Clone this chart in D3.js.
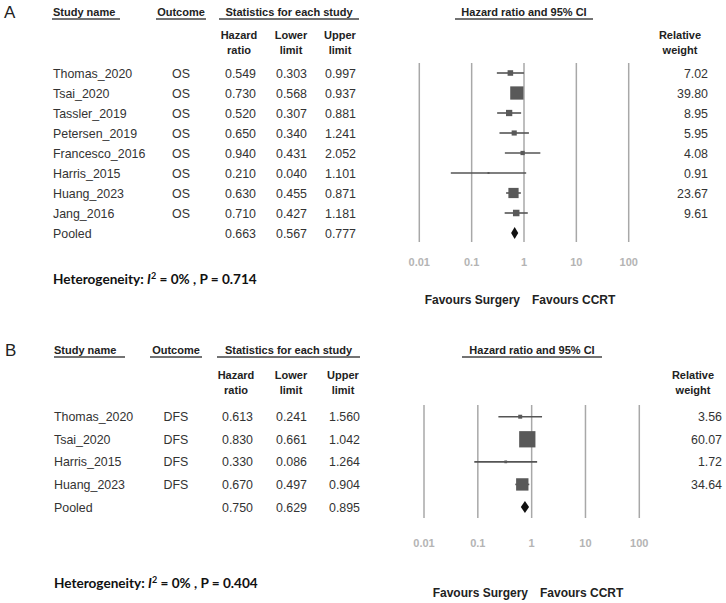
<!DOCTYPE html>
<html>
<head>
<meta charset="utf-8">
<script src="https://cdn.jsdelivr.net/npm/d3@7"></script>
<style>
  body { margin: 0; background: #fff; }
  text { font-family: "Liberation Sans", Arial, sans-serif; }
  .hdr { font-weight: bold; font-size: 11px; fill: #222; }
  .cell { font-size: 12.4px; fill: #333; }
  .tick { font-size: 11px; font-weight: bold; fill: #b4b4b4; }
  .fav { font-size: 12px; font-weight: bold; fill: #222; }
  .het { font-family: Lato, "Open Sans", sans-serif; font-size: 13.6px; font-weight: bold; fill: #111; }
</style>
</head>
<body>
<svg id="chart" width="726" height="603"></svg>
<script>
// panel A: overall survival
const studiesA = ["Thomas_2020", "Tsai_2020", "Tassler_2019", "Petersen_2019", "Francesco_2016", "Harris_2015", "Huang_2023", "Jang_2016"];
const outcomeA = "OS";
const hrA = [0.549, 0.730, 0.520, 0.650, 0.940, 0.210, 0.630, 0.710];
const lowerA = [0.303, 0.568, 0.307, 0.340, 0.431, 0.040, 0.455, 0.427];
const upperA = [0.997, 0.937, 0.881, 1.241, 2.052, 1.101, 0.871, 1.181];
const weightA = [7.02, 39.80, 8.95, 5.95, 4.08, 0.91, 23.67, 9.61];
const pooledA = [0.663, 0.567, 0.777];
const hetA = "0.714";

// panel B: disease free survival
const studiesB = ["Thomas_2020", "Tsai_2020", "Harris_2015", "Huang_2023"];
const outcomeB = "DFS";
const hrB = [0.613, 0.830, 0.330, 0.670];
const lowerB = [0.241, 0.661, 0.086, 0.497];
const upperB = [1.560, 1.042, 1.264, 0.904];
const weightB = [3.56, 60.07, 1.72, 34.64];
const pooledB = [0.750, 0.629, 0.895];
const hetB = "0.404";

const ticks = [0.01, 0.1, 1, 10, 100];
const tickLabels = ["0.01", "0.1", "1", "10", "100"];

const svg = d3.select("#chart");
const f3 = d3.format(".3f"), f2 = d3.format(".2f");

function drawPanel(p) {
    let g = svg.append("g");
    let names = p.studies.concat(["Pooled"]);
    let y = d3.scalePoint().domain(names).range([p.row0, p.row1]);
    let x = d3.scaleLog().domain([0.01, 100]).range([p.x0, p.x1]);
    let size = d3.scaleSqrt().domain([0, 100]).range([0, 21]);

    g.append("text").attr("x", p.labelX).attr("y", p.hdrY + 6)
        .style("font-size", "17px").attr("fill", "#222").text(p.label);

    // column headers with underlines
    let heads = [
        { t: "Study name", x: p.nameX, a: "start", u: p.uName },
        { t: "Outcome", x: p.outX, a: "middle", u: p.uOut },
        { t: "Statistics for each study", x: (p.uStat[0] + p.uStat[1]) / 2, a: "middle", u: p.uStat },
        { t: "Hazard ratio and 95% CI", x: (p.uCI[0] + p.uCI[1]) / 2, a: "middle", u: p.uCI }
    ];
    heads.forEach(h => {
        g.append("text").attr("class", "hdr").attr("x", h.x).attr("y", p.hdrY + 4)
            .attr("text-anchor", h.a).text(h.t);
        g.append("line").attr("x1", h.u[0]).attr("x2", h.u[1])
            .attr("y1", p.hdrY + 7).attr("y2", p.hdrY + 7)
            .attr("stroke", "#444").attr("stroke-width", 1.3);
    });
    let sub = [
        ["Hazard", "ratio", p.hrHX], ["Lower", "limit", p.loHX],
        ["Upper", "limit", p.upHX], ["Relative", "weight", p.wHX]
    ];
    sub.forEach(s => {
        g.append("text").attr("class", "hdr").attr("x", s[2]).attr("y", p.subY + 4)
            .attr("text-anchor", "middle").text(s[0]);
        g.append("text").attr("class", "hdr").attr("x", s[2]).attr("y", p.subY + p.subGap + 4)
            .attr("text-anchor", "middle").text(s[1]);
    });

    // table rows
    let rows = names.map((n, i) => {
        let pooled = i == p.studies.length;
        return {
            name: n,
            out: pooled ? "" : p.outcome,
            hr: pooled ? p.pooled[0] : p.hr[i],
            lo: pooled ? p.pooled[1] : p.lower[i],
            up: pooled ? p.pooled[2] : p.upper[i],
            w: pooled ? null : p.weight[i],
            pooled: pooled
        };
    });
    let row = g.selectAll("g.row").data(rows).enter().append("g")
        .attr("transform", d => "translate(0," + (y(d.name) + 4.5) + ")");
    row.append("text").attr("class", "cell").attr("x", p.nameX).text(d => d.name);
    row.append("text").attr("class", "cell").attr("x", p.outX).attr("text-anchor", "middle").text(d => d.out);
    row.append("text").attr("class", "cell").attr("x", p.hrX).attr("text-anchor", "end").text(d => f3(d.hr));
    row.append("text").attr("class", "cell").attr("x", p.loX).attr("text-anchor", "end").text(d => f3(d.lo));
    row.append("text").attr("class", "cell").attr("x", p.upX).attr("text-anchor", "end").text(d => f3(d.up));
    row.append("text").attr("class", "cell").attr("x", p.wX).attr("text-anchor", "end")
        .text(d => d.w == null ? "" : f2(d.w));

    // grid
    g.selectAll("line.grid").data(ticks).enter().append("line")
        .attr("x1", d => x(d)).attr("x2", d => x(d))
        .attr("y1", p.gridTop).attr("y2", p.gridBot)
        .attr("stroke", "#a8a8a8").attr("stroke-width", 1.5);
    g.selectAll("text.tick").data(ticks).enter().append("text")
        .attr("class", "tick").attr("x", d => x(d)).attr("y", p.tickY + 4)
        .attr("text-anchor", "middle").text((d, i) => tickLabels[i]);

    // CI lines and squares
    let st = rows.filter(d => !d.pooled);
    g.selectAll("line.ci").data(st).enter().append("line")
        .attr("x1", d => x(d.lo)).attr("x2", d => x(d.up))
        .attr("y1", d => y(d.name)).attr("y2", d => y(d.name))
        .attr("stroke", "#555").attr("stroke-width", 1.6);
    g.selectAll("rect.box").data(st).enter().append("rect")
        .attr("x", d => x(d.hr) - size(d.w) / 2).attr("y", d => y(d.name) - size(d.w) / 2)
        .attr("width", d => size(d.w)).attr("height", d => size(d.w))
        .attr("fill", "#595959");

    let pd = rows[rows.length - 1], py = y(pd.name);
    g.append("path")
        .attr("d", `M ${x(pd.lo)} ${py} L ${x(pd.hr)} ${py - 6} L ${x(pd.up)} ${py} L ${x(pd.hr)} ${py + 6} Z`)
        .attr("fill", "#111");

    g.append("text").attr("class", "fav").attr("x", p.favX - 6).attr("y", p.favY + 4)
        .attr("text-anchor", "end").text("Favours Surgery");
    g.append("text").attr("class", "fav").attr("x", p.favX + 6).attr("y", p.favY + 4)
        .text("Favours CCRT");

    let het = g.append("text").attr("class", "het").attr("x", p.nameX).attr("y", p.hetY + 4.5);
    het.append("tspan").text("Heterogeneity: ");
    het.append("tspan").style("font-style", "italic").text("I");
    het.append("tspan").attr("dy", -5).style("font-size", "9px").text("2");
    het.append("tspan").attr("dy", 5).text(" = 0% , P = " + p.het);
}

drawPanel({
    label: "A", studies: studiesA, outcome: outcomeA, hr: hrA, lower: lowerA, upper: upperA,
    weight: weightA, pooled: pooledA, het: hetA,
    labelX: 4, hdrY: 12, subY: 35, subGap: 15,
    nameX: 53, outX: 181, hrX: 256, loX: 307, upX: 356, wX: 708,
    hrHX: 239, loHX: 291, upHX: 340, wHX: 680,
    uName: [52, 120], uOut: [156, 206], uStat: [219, 359], uCI: [455, 593],
    row0: 73, row1: 233, x0: 419.3, x1: 628.7, gridTop: 63, gridBot: 242,
    tickY: 262, favX: 526, favY: 300, hetY: 279
});

drawPanel({
    label: "B", studies: studiesB, outcome: outcomeB, hr: hrB, lower: lowerB, upper: upperB,
    weight: weightB, pooled: pooledB, het: hetB,
    labelX: 5, hdrY: 350, subY: 375, subGap: 15,
    nameX: 54, outX: 176, hrX: 253, loX: 307, upX: 360, wX: 722,
    hrHX: 236, loHX: 291, upHX: 343, wHX: 693,
    uName: [54, 125], uOut: [150, 202], uStat: [217, 360], uCI: [462, 602],
    row0: 416.7, row1: 507, x0: 424, x1: 639.3, gridTop: 405, gridBot: 518,
    tickY: 543, favX: 534, favY: 593, hetY: 583
});
</script>
</body>
</html>
